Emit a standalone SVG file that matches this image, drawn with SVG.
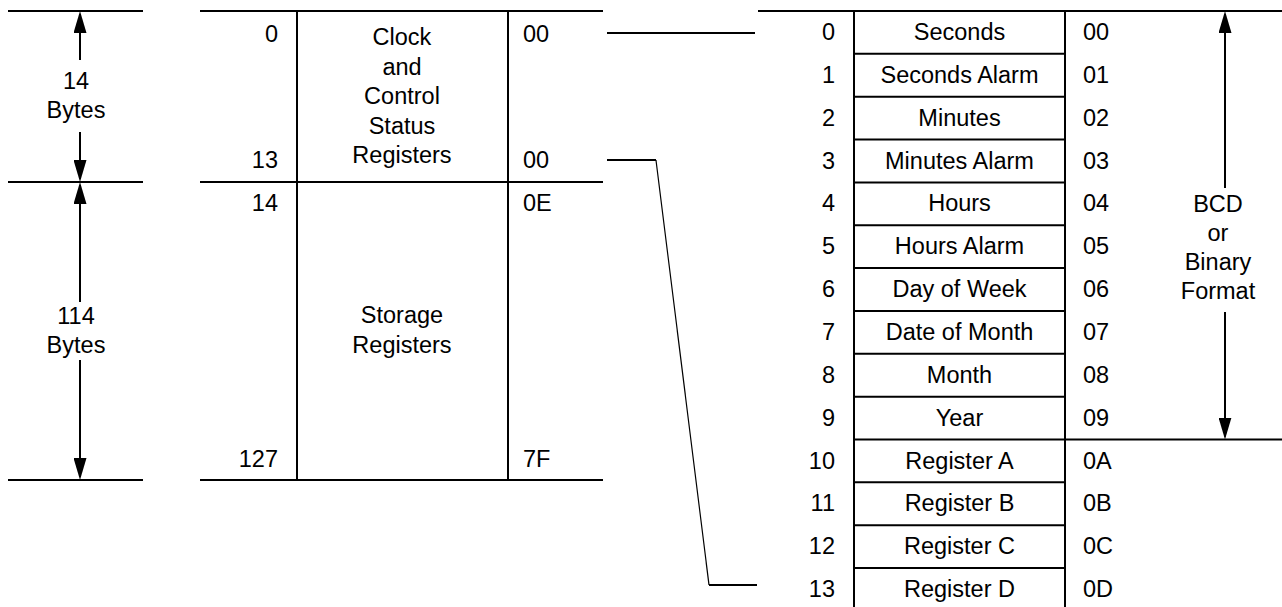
<svg xmlns="http://www.w3.org/2000/svg" width="1282" height="607" viewBox="0 0 1282 607">
<style>
text{font-family:"Liberation Sans",Arial,sans-serif;font-size:23.5px;fill:#000}
.r{text-anchor:end}.c{text-anchor:middle}
.ln{stroke:#000;stroke-width:2;fill:none}
.thin{stroke:#000;stroke-width:1.2;fill:none}
.ar{stroke:#000;stroke-width:2;fill:none;marker-end:url(#ah)}
</style>
<defs>
<marker id="ah" markerUnits="userSpaceOnUse" markerWidth="22" markerHeight="13" refX="19" refY="6.5" orient="auto">
<path d="M0,0 L22,6.5 L0,13 z" fill="#000"/>
</marker>
</defs>
<rect width="1282" height="607" fill="#fff"/>

<g id="dimension-left">
<line class="ln" x1="8" y1="11" x2="143" y2="11"/>
<line class="ln" x1="8" y1="182" x2="143" y2="182"/>
<line class="ln" x1="8" y1="480" x2="143" y2="480"/>
<line class="ar" x1="80" y1="60" x2="80" y2="14"/>
<line class="ar" x1="80" y1="132" x2="80" y2="179"/>
<line class="ar" x1="80" y1="302" x2="80" y2="185"/>
<line class="ar" x1="80" y1="360" x2="80" y2="477"/>
<text class="c" x="76" y="89">14</text>
<text class="c" x="76" y="118">Bytes</text>
<text class="c" x="76" y="324">114</text>
<text class="c" x="76" y="353">Bytes</text>
</g>

<g id="memory-map">
<line class="ln" x1="200" y1="11" x2="603" y2="11"/>
<line class="ln" x1="200" y1="182" x2="603" y2="182"/>
<line class="ln" x1="200" y1="480" x2="603" y2="480"/>
<line class="ln" x1="297" y1="11" x2="297" y2="480"/>
<line class="ln" x1="508" y1="11" x2="508" y2="480"/>
</g>
<g id="clock-control">
<text class="r" x="278" y="41.5">0</text>
<text class="r" x="278" y="168">13</text>
<text x="523" y="41.5">00</text>
<text x="523" y="168">00</text>
<text class="c" x="402" y="45">Clock</text>
<text class="c" x="402" y="74.5">and</text>
<text class="c" x="402" y="104">Control</text>
<text class="c" x="402" y="133.5">Status</text>
<text class="c" x="402" y="163">Registers</text>
</g>
<g id="storage">
<text class="r" x="278" y="210.5">14</text>
<text class="r" x="278" y="466.5">127</text>
<text x="523" y="210.5">0E</text>
<text x="523" y="466.5">7F</text>
<text class="c" x="402" y="323">Storage</text>
<text class="c" x="402" y="353">Registers</text>
</g>

<g id="connectors">
<line class="ln" x1="607" y1="33" x2="755" y2="33"/>
<line class="ln" x1="607" y1="160" x2="656" y2="160"/>
<line class="thin" x1="656" y1="160" x2="709" y2="585"/>
<line class="ln" x1="709" y1="585" x2="757" y2="585"/>
</g>

<g id="register-table">
<line class="ln" x1="758" y1="11" x2="1282" y2="11"/>
<line class="ln" x1="854" y1="11" x2="854" y2="607"/>
<line class="ln" x1="1065" y1="11" x2="1065" y2="607"/>
<line class="ln" x1="854" y1="53.85" x2="1065" y2="53.85"/>
<line class="ln" x1="854" y1="96.7" x2="1065" y2="96.7"/>
<line class="ln" x1="854" y1="139.55" x2="1065" y2="139.55"/>
<line class="ln" x1="854" y1="182.4" x2="1065" y2="182.4"/>
<line class="ln" x1="854" y1="225.25" x2="1065" y2="225.25"/>
<line class="ln" x1="854" y1="268.1" x2="1065" y2="268.1"/>
<line class="ln" x1="854" y1="310.95" x2="1065" y2="310.95"/>
<line class="ln" x1="854" y1="353.8" x2="1065" y2="353.8"/>
<line class="ln" x1="854" y1="396.65" x2="1065" y2="396.65"/>
<line class="ln" x1="854" y1="439.5" x2="1282" y2="439.5"/>
<line class="ln" x1="854" y1="482.35" x2="1065" y2="482.35"/>
<line class="ln" x1="854" y1="525.2" x2="1065" y2="525.2"/>
<line class="ln" x1="854" y1="568.05" x2="1065" y2="568.05"/>
</g>
<g id="row-0"><text class="r" x="835" y="40">0</text><text class="c" x="959.5" y="40">Seconds</text><text x="1083" y="40">00</text></g>
<g id="row-1"><text class="r" x="835" y="82.85">1</text><text class="c" x="959.5" y="82.85">Seconds Alarm</text><text x="1083" y="82.85">01</text></g>
<g id="row-2"><text class="r" x="835" y="125.7">2</text><text class="c" x="959.5" y="125.7">Minutes</text><text x="1083" y="125.7">02</text></g>
<g id="row-3"><text class="r" x="835" y="168.55">3</text><text class="c" x="959.5" y="168.55">Minutes Alarm</text><text x="1083" y="168.55">03</text></g>
<g id="row-4"><text class="r" x="835" y="211.4">4</text><text class="c" x="959.5" y="211.4">Hours</text><text x="1083" y="211.4">04</text></g>
<g id="row-5"><text class="r" x="835" y="254.25">5</text><text class="c" x="959.5" y="254.25">Hours Alarm</text><text x="1083" y="254.25">05</text></g>
<g id="row-6"><text class="r" x="835" y="297.1">6</text><text class="c" x="959.5" y="297.1">Day of Week</text><text x="1083" y="297.1">06</text></g>
<g id="row-7"><text class="r" x="835" y="339.95">7</text><text class="c" x="959.5" y="339.95">Date of Month</text><text x="1083" y="339.95">07</text></g>
<g id="row-8"><text class="r" x="835" y="382.8">8</text><text class="c" x="959.5" y="382.8">Month</text><text x="1083" y="382.8">08</text></g>
<g id="row-9"><text class="r" x="835" y="425.65">9</text><text class="c" x="959.5" y="425.65">Year</text><text x="1083" y="425.65">09</text></g>
<g id="row-10"><text class="r" x="835" y="468.5">10</text><text class="c" x="959.5" y="468.5">Register A</text><text x="1083" y="468.5">0A</text></g>
<g id="row-11"><text class="r" x="835" y="511.35">11</text><text class="c" x="959.5" y="511.35">Register B</text><text x="1083" y="511.35">0B</text></g>
<g id="row-12"><text class="r" x="835" y="554.2">12</text><text class="c" x="959.5" y="554.2">Register C</text><text x="1083" y="554.2">0C</text></g>
<g id="row-13"><text class="r" x="835" y="597.05">13</text><text class="c" x="959.5" y="597.05">Register D</text><text x="1083" y="597.05">0D</text></g>

<g id="bcd-format">
<line class="ar" x1="1225" y1="188" x2="1225" y2="14"/>
<line class="ar" x1="1225" y1="312" x2="1225" y2="436.5"/>
<text class="c" x="1218" y="211.5">BCD</text>
<text class="c" x="1218" y="240.5">or</text>
<text class="c" x="1218" y="269.5">Binary</text>
<text class="c" x="1218" y="298.5">Format</text>
</g>
</svg>
